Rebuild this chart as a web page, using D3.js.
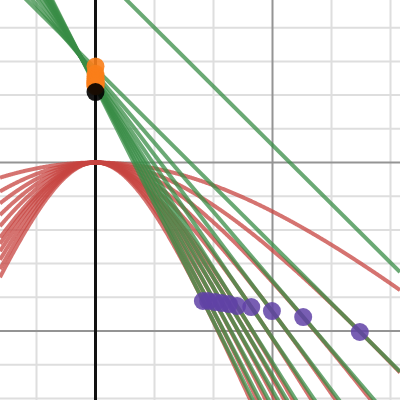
<!DOCTYPE html>
<html>
<head>
<meta charset="utf-8">
<script src="https://cdn.jsdelivr.net/npm/d3@7"></script>
<style>
  html, body { margin: 0; padding: 0; background: #fff; }
  svg { display: block; }
</style>
</head>
<body>
<svg id="chart" width="400" height="400"></svg>
<script>
// ---- data (graph units: x per minor grid step, y per minor grid step) ----
// red curves: y = A - sqrt(A^2 + (s x)^2), vertex at origin
const redA = [7.8, 6.31, 6.21, 6.10, 5.98, 5.76, 5.64, 5.53, 5.42, 5.26, 5.05];
const redS = [1.66, 2.10, 2.51, 2.86, 3.16, 3.42, 3.55, 3.71, 3.89, 4.06, 4.19];
// green tangent lines: y = intercept + slope * x
const greenIntercept = [5.74, 2.79, 2.63, 2.55, 2.49, 2.44, 2.40, 2.37, 2.34, 2.30, 2.26];
const greenSlope = [-1.742, -1.743, -2.048, -2.326, -2.568, -2.793, -2.910, -3.045, -3.197, -3.354, -3.489];
// purple tangency points
const purpleX = [4.48, 3.52, 2.99, 2.64, 2.40, 2.26, 2.14, 2.03, 1.91, 1.82];
const purpleY = [-5.03, -4.585, -4.41, -4.29, -4.26, -4.20, -4.17, -4.14, -4.11, -4.11];
// orange points on the y-axis (line intercepts)
const orangeY = [2.85, 2.63, 2.55, 2.49, 2.44, 2.40, 2.37, 2.34, 2.30, 2.26];
// black point on the y-axis
const blackY = [2.09];

// ---- layout ----
const W = 400, H = 400;
const pxX = 59, pxY = 33.7, x0 = 95.5, y0 = 162.5;
const x = d3.scaleLinear().domain([-x0 / pxX, (W - x0) / pxX]).range([0, W]);
const y = d3.scaleLinear().domain([y0 / pxY, (y0 - H) / pxY]).range([0, H]);

const svg = d3.select("#chart");

// grid
const g = svg.append("g");
const xTicks = d3.range(Math.ceil(x.domain()[0]), Math.floor(x.domain()[1]) + 1);
const yTicks = d3.range(Math.ceil(y.domain()[1]), Math.floor(y.domain()[0]) + 1);
g.selectAll("line.vx").data(xTicks.filter(d => d !== 0 && d % 3 !== 0)).join("line")
  .attr("x1", d => x(d)).attr("x2", d => x(d)).attr("y1", 0).attr("y2", H)
  .attr("stroke", "#dedede").attr("stroke-width", 2);
g.selectAll("line.hy").data(yTicks.filter(d => d % 5 !== 0)).join("line")
  .attr("y1", d => y(d)).attr("y2", d => y(d)).attr("x1", 0).attr("x2", W)
  .attr("stroke", "#dedede").attr("stroke-width", 2);
g.selectAll("line.vxm").data(xTicks.filter(d => d !== 0 && d % 3 === 0)).join("line")
  .attr("x1", d => x(d)).attr("x2", d => x(d)).attr("y1", 0).attr("y2", H)
  .attr("stroke", "#949494").attr("stroke-width", 2);
g.selectAll("line.hym").data(yTicks.filter(d => d % 5 === 0)).join("line")
  .attr("y1", d => y(d)).attr("y2", d => y(d)).attr("x1", 0).attr("x2", W)
  .attr("stroke", "#949494").attr("stroke-width", 2);
// y-axis
g.append("line").attr("x1", x(0)).attr("x2", x(0)).attr("y1", 0).attr("y2", H)
  .attr("stroke", "#111").attr("stroke-width", 3);

// red curves
const xs = d3.range(x.domain()[0], x.domain()[1] + 0.01, 0.01);
const line = d3.line().x(d => x(d[0])).y(d => y(d[1]));
svg.append("g").selectAll("path").data(redA.map((A, i) => ({ A, s: redS[i] }))).join("path")
  .attr("d", c => line(xs.map(v => [v, c.A - Math.sqrt(c.A * c.A + (c.s * v) * (c.s * v))])))
  .attr("fill", "none").attr("stroke", "#c74440").attr("stroke-opacity", 0.75)
  .attr("stroke-width", 4);

// green lines
const [xa, xb] = x.domain();
svg.append("g").selectAll("line").data(greenIntercept.map((b, i) => ({ b, m: greenSlope[i] }))).join("line")
  .attr("x1", x(xa)).attr("y1", d => y(d.b + d.m * xa))
  .attr("x2", x(xb)).attr("y2", d => y(d.b + d.m * xb))
  .attr("stroke", "#388c46").attr("stroke-opacity", 0.75).attr("stroke-width", 4);

// purple points
svg.append("g").selectAll("circle").data(purpleX.map((px, i) => [px, purpleY[i]])).join("circle")
  .attr("cx", d => x(d[0])).attr("cy", d => y(d[1])).attr("r", 9)
  .attr("fill", "#6042a6").attr("fill-opacity", 0.85);

// orange points
svg.append("g").selectAll("circle").data(orangeY).join("circle")
  .attr("cx", x(0)).attr("cy", d => y(d)).attr("r", 9)
  .attr("fill", "#fa7e19").attr("fill-opacity", 0.9);

// black point
svg.append("g").selectAll("circle").data(blackY).join("circle")
  .attr("cx", x(0)).attr("cy", d => y(d)).attr("r", 9)
  .attr("fill", "#000").attr("fill-opacity", 0.9);
</script>
</body>
</html>
